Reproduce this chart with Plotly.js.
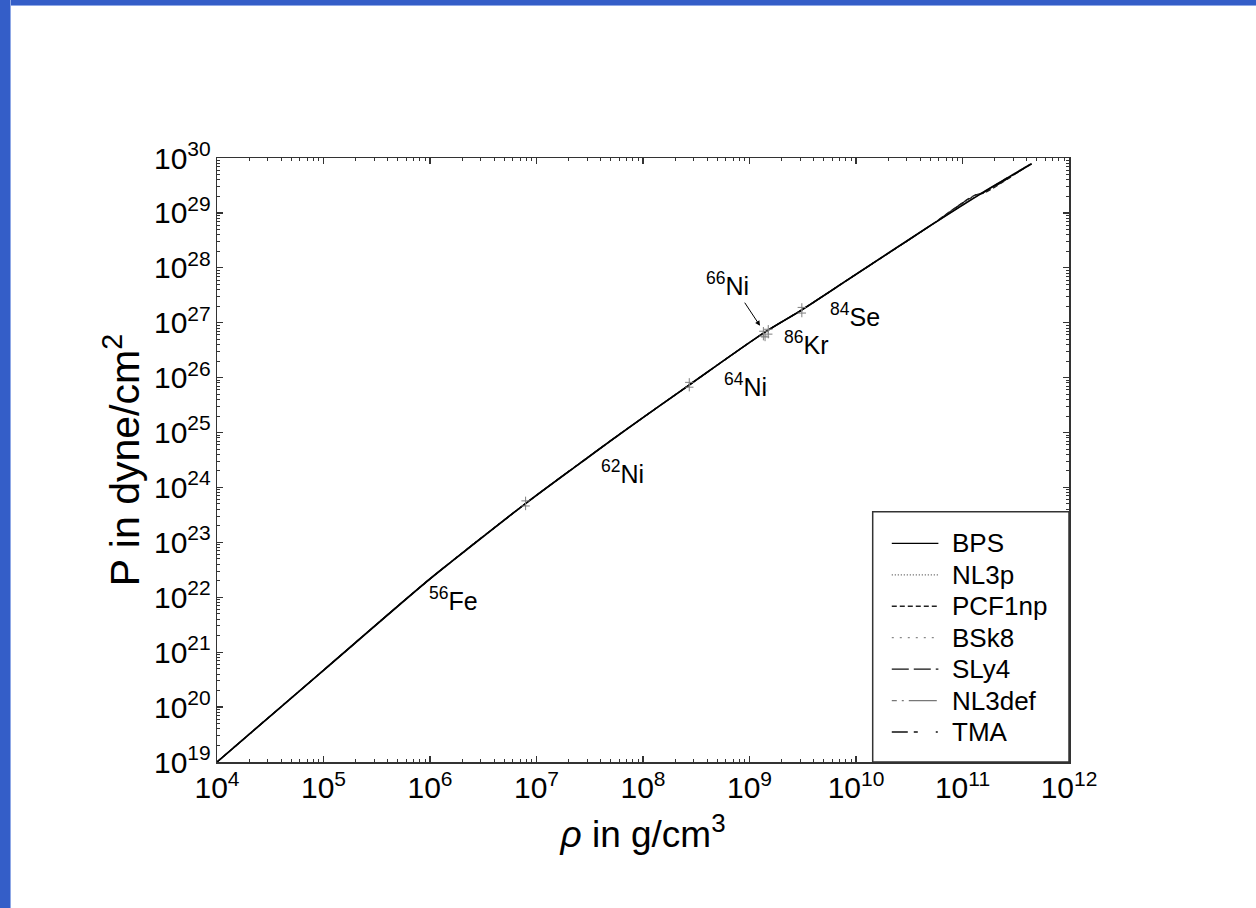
<!DOCTYPE html>
<html>
<head>
<meta charset="utf-8">
<script src="https://cdn.plot.ly/plotly-3.0.1.min.js"></script>
<style>
  html, body { margin:0; padding:0; background:#ffffff; }
  #plot { position:absolute; left:0; top:0; width:1256px; height:908px; }
  #bandTop { position:absolute; left:0; top:0; width:1256px; height:5px; background:#345ec8; border-bottom:1px solid #8fa8e6; z-index:10; }
  #bandLeft { position:absolute; left:0; top:0; width:10px; height:908px; background:#345ec8; border-right:1px solid #8fa8e6; z-index:10; }
</style>
</head>
<body>
<div id="plot"></div>
<div id="bandTop"></div>
<div id="bandLeft"></div>
<script>
// ---- data (rho in g/cm^3, P in dyne/cm^2) ----
const rhoBPS = [1e4, 1e5, 9.64e5, 1.66e6, 7.94e6, 2.56e7, 6.08e7, 2.72e8, 1.35e9, 3.09e9, 8.79e9, 4.61e10, 1.55e11, 4.47e11];
const pBPS   = [1e19, 4.68e20, 2.04e22, 4.75e22, 5.13e23, 2.75e24, 9.42e24, 7.36e25, 6.46e26, 1.71e27, 6.46e27, 5.30e28, 2.34e29, 7.87e29];

const rhoNL3p   = [1e4, 1e5, 9.64e5, 7.94e6, 6.08e7, 2.72e8, 1.35e9, 3.09e9, 8.79e9, 4.61e10, 1.30e11, 1.60e11, 4.30e11];
const pNL3p     = [1e19, 4.68e20, 2.04e22, 5.13e23, 9.42e24, 7.36e25, 6.46e26, 1.71e27, 6.46e27, 5.30e28, 1.95e29, 2.45e29, 7.70e29];
const rhoPCF1np = [1e4, 1e5, 9.64e5, 7.94e6, 6.08e7, 2.72e8, 1.35e9, 3.09e9, 8.79e9, 4.61e10, 1.30e11, 1.60e11, 4.35e11];
const pPCF1np   = [1e19, 4.68e20, 2.04e22, 5.13e23, 9.42e24, 7.36e25, 6.46e26, 1.71e27, 6.46e27, 5.30e28, 2.10e29, 2.30e29, 7.80e29];
const rhoBSk8   = [1e4, 1e5, 9.64e5, 7.94e6, 6.08e7, 2.72e8, 1.35e9, 3.09e9, 8.79e9, 4.61e10, 1.30e11, 1.60e11, 4.40e11];
const pBSk8     = [1e19, 4.68e20, 2.04e22, 5.13e23, 9.42e24, 7.36e25, 6.46e26, 1.71e27, 6.46e27, 5.30e28, 2.00e29, 2.42e29, 7.75e29];
const rhoSLy4   = [1e4, 1e5, 9.64e5, 7.94e6, 6.08e7, 2.72e8, 1.35e9, 3.09e9, 8.79e9, 4.61e10, 1.30e11, 1.60e11, 4.40e11];
const pSLy4     = [1e19, 4.68e20, 2.04e22, 5.13e23, 9.42e24, 7.36e25, 6.46e26, 1.71e27, 6.46e27, 5.30e28, 2.08e29, 2.38e29, 7.90e29];
const rhoNL3def = [1e4, 1e5, 9.64e5, 7.94e6, 6.08e7, 2.72e8, 1.35e9, 3.09e9, 8.79e9, 4.61e10, 1.30e11, 1.60e11, 4.30e11];
const pNL3def   = [1e19, 4.68e20, 2.04e22, 5.13e23, 9.42e24, 7.36e25, 6.46e26, 1.71e27, 6.46e27, 5.30e28, 1.92e29, 2.48e29, 7.65e29];
const rhoTMA    = [1e4, 1e5, 9.64e5, 7.94e6, 6.08e7, 2.72e8, 1.35e9, 3.09e9, 8.79e9, 4.61e10, 1.30e11, 1.60e11, 4.35e11];
const pTMA      = [1e19, 4.68e20, 2.04e22, 5.13e23, 9.42e24, 7.36e25, 6.46e26, 1.71e27, 6.46e27, 5.30e28, 2.05e29, 2.34e29, 7.82e29];

// transition markers (pairs stacked vertically)
const markRho = [7.9e6, 7.9e6, 2.72e8, 2.72e8, 1.35e9, 1.35e9, 1.50e9, 1.50e9, 1.40e9, 3.10e9, 3.10e9];
const markP   = [4.6e23, 5.7e23, 6.7e25, 8.2e25, 5.7e26, 7.0e26, 6.2e26, 7.6e26, 5.5e26, 1.5e27, 1.9e27];

// isotope labels (log10 rho, log10 P)
const isoText = ["<sup>56</sup>Fe", "<sup>62</sup>Ni", "<sup>64</sup>Ni", "<sup>66</sup>Ni", "<sup>86</sup>Kr", "<sup>84</sup>Se"];
const isoLogRho = [6.225, 7.812, 8.958, 8.793, 9.529, 9.991];
const isoLogP   = [21.965, 24.286, 25.858, 27.708, 26.633, 27.143];

const seriesNames = ["BPS", "NL3p", "PCF1np", "BSk8", "SLy4", "NL3def", "TMA"];
const seriesRho = [rhoBPS, rhoNL3p, rhoPCF1np, rhoBSk8, rhoSLy4, rhoNL3def, rhoTMA];
const seriesP   = [pBPS, pNL3p, pPCF1np, pBSk8, pSLy4, pNL3def, pTMA];

// ---- styles ----
const FONT = 'Liberation Sans, Arial, sans-serif';
const styles = [
  {color:'#000000', dash:'solid', width:1.7},
  {color:'#555555', dash:'1px,2px', width:1.2},
  {color:'#222222', dash:'5px,3px', width:1.2},
  {color:'#888888', dash:'2px,6px', width:1.2},
  {color:'#111111', dash:'17px,5px', width:1.2},
  {color:'#777777', dash:'5px,5px,2px,5px,28px,4px', width:1.2},
  {color:'#111111', dash:'16px,6px,4px,18px,2px,8px', width:1.2}
];

const traces = [];
// draw non-BPS first so the BPS solid line sits on top
for (let i = seriesNames.length - 1; i >= 0; i--) {
  traces.push({
    x: seriesRho[i], y: seriesP[i], type:'scatter', mode:'lines', name: seriesNames[i],
    line: {color: styles[i].color, dash: styles[i].dash, width: styles[i].width, shape:'spline', smoothing:0.8},
    showlegend:false, hoverinfo:'skip'
  });
}
traces.push({
  x: markRho, y: markP, type:'scatter', mode:'markers', showlegend:false, hoverinfo:'skip',
  marker: {symbol:'cross-thin-open', size:6, line:{color:'#555555', width:1}}
});

const annotations = [];
for (let i = 0; i < isoText.length; i++) {
  annotations.push({x: isoLogRho[i], y: isoLogP[i], xref:'x', yref:'y', text: isoText[i],
    showarrow:false, font:{family:FONT, size:25, color:'#000'}, xanchor:'center', yanchor:'middle'});
}
// arrow pointing to the 66Ni transitions
annotations.push({x: 9.099, y: 26.943, xref:'x', yref:'y', ax: 8.927, ay: 27.448, axref:'x', ayref:'y',
  text:' ', showarrow:true, arrowhead:2, arrowsize:1, arrowwidth:1, arrowcolor:'#000', standoff:0, startstandoff:0});

// manual legend (box + samples + labels) in paper coordinates
const shapes = [];
const lgX0 = 0.7696, lgY1 = 0.4143;
shapes.push({type:'rect', xref:'paper', yref:'paper', x0:lgX0, x1:1, y0:0, y1:lgY1,
  line:{color:'#333', width:1.5}, fillcolor:'#ffffff', layer:'above'});
const rowTop = 0.3620, rowStep = 0.05205;
for (let i = 0; i < seriesNames.length; i++) {
  const yy = rowTop - i * rowStep;
  shapes.push({type:'line', xref:'paper', yref:'paper', x0:0.7920, x1:0.8467, y0:yy, y1:yy,
    line:{color: styles[i].color, dash: styles[i].dash, width: 1.3}, layer:'above'});
  annotations.push({xref:'paper', yref:'paper', x:0.8600, y:yy, text: seriesNames[i], showarrow:false,
    xanchor:'left', yanchor:'middle', font:{family:FONT, size:26, color:'#000'}});
}

const axisCommon = {
  type:'log', dtick:1, exponentformat:'power', showexponent:'all',
  ticks:'inside', ticklen:6, tickwidth:1.2, tickcolor:'#333',
  showline:true, linecolor:'#333', linewidth:1.5, mirror:'ticks',
  showgrid:false, zeroline:false,
  tickfont:{family:FONT, size:24, color:'#000'},
  minor:{ticks:'inside', ticklen:3, tickwidth:1, tickcolor:'#333', dtick:'D1', showgrid:false}
};

const layout = {
  width:1256, height:908,
  margin:{l:217, r:187, t:158, b:146},
  paper_bgcolor:'#ffffff', plot_bgcolor:'#ffffff',
  showlegend:false,
  xaxis: Object.assign({}, axisCommon, {range:[4,12],
    title:{text:'<i>ρ</i> in g/cm<sup>3</sup>', font:{family:FONT, size:37, color:'#000'}, standoff:18}}),
  yaxis: Object.assign({}, axisCommon, {range:[19,30],
    title:{text:'P in dyne/cm<sup>2</sup>', font:{family:FONT, size:41, color:'#000'}, standoff:1}}),
  annotations: annotations,
  shapes: shapes
};

Plotly.newPlot('plot', traces, layout, {staticPlot:true, displayModeBar:false});
</script>
</body>
</html>
